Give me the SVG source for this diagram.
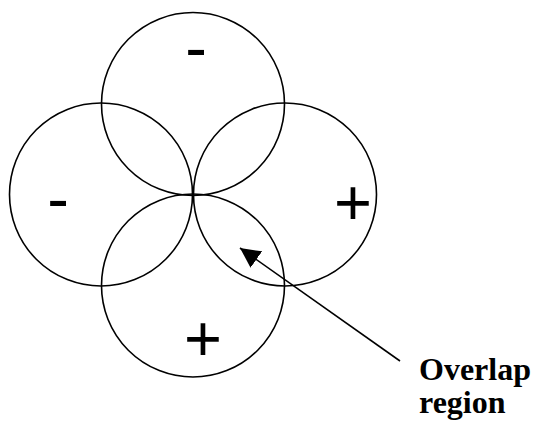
<svg xmlns="http://www.w3.org/2000/svg" width="533" height="422" viewBox="0 0 533 422">
<style>
.c{fill:none;stroke:#000;stroke-width:1.6}
.s{font-family:"Liberation Sans",Arial,sans-serif;font-size:65px;text-anchor:middle;fill:#000}
.t{font-family:"Liberation Serif","Times New Roman",serif;font-size:32px;font-weight:bold;fill:#000}
</style>
<defs>
<marker id="ah" viewBox="0 0 20 20" refX="20" refY="10" markerWidth="20" markerHeight="20" markerUnits="userSpaceOnUse" orient="auto">
<path d="M0,0 L20,10 L0,20 Z" fill="#000"/>
</marker>
</defs>
<g id="top"><circle class="c" cx="193" cy="104" r="91.5"/><text class="s" x="196" y="70">-</text></g>
<g id="left"><circle class="c" cx="101" cy="194.5" r="91.5"/><text class="s" x="58" y="221">-</text></g>
<g id="right"><circle class="c" cx="285" cy="194.5" r="91.5"/><text class="s" x="353" y="225">+</text></g>
<g id="bottom"><circle class="c" cx="193" cy="285.5" r="91.5"/><text class="s" x="203" y="361">+</text></g>
<g id="connectors"><line x1="400" y1="361" x2="240" y2="248" stroke="#000" stroke-width="1.6" marker-end="url(#ah)"/></g>
<g id="label"><text class="t" x="419" y="380">Overlap</text><text class="t" x="419" y="413">region</text></g>
</svg>
